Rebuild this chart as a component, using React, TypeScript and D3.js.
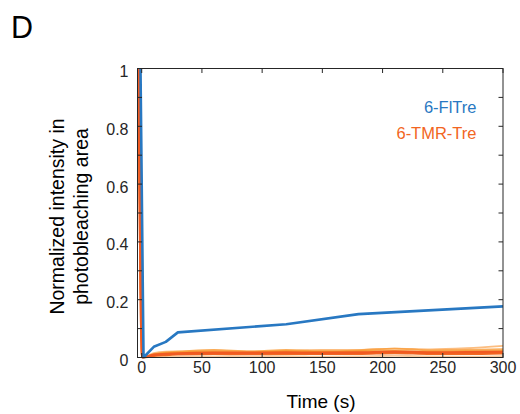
import React, { useEffect, useRef } from 'react';
import * as d3 from 'd3';

// time points (s)
const times = [0.5, 10, 20, 30, 60, 90, 120, 150, 180, 210, 240, 270, 300];

const blueTimes = [-1, 1.5, 10, 20, 30, 120, 180, 300];
const blueValues = [1, 0, 0.037, 0.054, 0.087, 0.115, 0.15, 0.177];

// 6-TMR-Tre traces (several cells)
const orangeSeries = [
  { color: '#FBB26A', values: [0, 0.015, 0.02, 0.021, 0.024, 0.021, 0.023, 0.026, 0.026, 0.031, 0.028, 0.032, 0.04] },
  { color: '#F9A03F', values: [0, 0.012, 0.018, 0.02, 0.026, 0.021, 0.026, 0.022, 0.025, 0.031, 0.025, 0.026, 0.029] },
  { color: '#F7931E', values: [0, 0.01, 0.015, 0.017, 0.019, 0.017, 0.021, 0.019, 0.021, 0.023, 0.02, 0.021, 0.023] },
  { color: '#FAC089', values: [0, 0.002, 0.003, 0.003, 0.004, 0.003, 0.005, 0.003, 0.004, 0.006, 0.004, 0.003, 0.005] },
  { color: '#F26B21', values: [0, 0.006, 0.009, 0.011, 0.013, 0.012, 0.013, 0.013, 0.013, 0.016, 0.013, 0.013, 0.015] },
  { color: '#F15A22', values: [0, 0.009, 0.012, 0.014, 0.016, 0.016, 0.017, 0.016, 0.017, 0.02, 0.017, 0.018, 0.019] },
];
const orangeStart = -2.5;

const xTicks = [0, 50, 100, 150, 200, 250, 300];
const yTicks = [0, 0.1, 0.2, 0.3, 0.4, 0.5, 0.6, 0.7, 0.8, 0.9, 1];
const yLabels = ['0', '0.2', '0.4', '0.6', '0.8', '1'];

const BLUE = '#2878C2';
const ORANGE = '#F26522';
const AXIS = '#262626';
const FONT = 'Liberation Sans, Arial, Helvetica, sans-serif';

const App = () => {
  const ref = useRef<SVGSVGElement | null>(null);

  useEffect(() => {
    const width = 520, height = 414;
    const left = 137.5, right = 503, top = 68.5, bottom = 357.5;

    const x = d3.scaleLinear().domain([-3.5, 300]).range([left, right]);
    const y = d3.scaleLinear().domain([0, 1]).range([bottom, top]);

    const svg = d3.select(ref.current)
      .attr('width', width)
      .attr('height', height)
      .attr('viewBox', [0, 0, width, height]);
    svg.selectAll('*').remove();

    svg.append('rect').attr('width', width).attr('height', height).attr('fill', '#fff');

    // panel letter
    svg.append('text')
      .attr('x', 11).attr('y', 37.5)
      .attr('font-family', FONT).attr('font-size', 30.5)
      .attr('fill', '#000')
      .text('D');

    svg.append('defs').append('clipPath').attr('id', 'plotclip')
      .append('rect')
      .attr('x', left).attr('y', top - 1)
      .attr('width', right - left).attr('height', bottom - top + 2);

    const line = d3.line<[number, number]>()
      .x(d => x(d[0]))
      .y(d => y(d[1]));

    const plot = svg.append('g').attr('clip-path', 'url(#plotclip)');

    orangeSeries.forEach((s, i) => {
      const pts: [number, number][] = [[orangeStart, 1], ...times.map((t, j) => [t, s.values[j]] as [number, number])];
      plot.append('path')
        .attr('d', line.curve(d3.curveMonotoneX)(pts))
        .attr('fill', 'none')
        .attr('stroke', s.color)
        .attr('stroke-width', i >= 4 ? 2.6 : 1.8)
        .attr('stroke-opacity', i >= 4 ? 1 : 0.85)
        .attr('stroke-linejoin', 'round');
    });

    const bluePts: [number, number][] = blueTimes.map((t, j) => [t, blueValues[j]]);
    plot.append('path')
      .attr('d', line.curve(d3.curveLinear)(bluePts))
      .attr('fill', 'none')
      .attr('stroke', BLUE)
      .attr('stroke-width', 2.6)
      .attr('stroke-linejoin', 'round');

    // frame
    svg.append('rect')
      .attr('x', left).attr('y', top)
      .attr('width', right - left).attr('height', bottom - top)
      .attr('fill', 'none')
      .attr('stroke', AXIS)
      .attr('stroke-width', 1);

    const tickLen = 4.5;
    const ticks = svg.append('g').attr('stroke', AXIS).attr('stroke-width', 1);
    xTicks.forEach(t => {
      ticks.append('line').attr('x1', x(t)).attr('x2', x(t)).attr('y1', bottom).attr('y2', bottom - tickLen);
      ticks.append('line').attr('x1', x(t)).attr('x2', x(t)).attr('y1', top).attr('y2', top + tickLen);
    });
    yTicks.forEach(t => {
      ticks.append('line').attr('x1', left).attr('x2', left + tickLen).attr('y1', y(t)).attr('y2', y(t));
      ticks.append('line').attr('x1', right).attr('x2', right - tickLen).attr('y1', y(t)).attr('y2', y(t));
    });

    // tick labels
    svg.append('g')
      .selectAll('text')
      .data(xTicks)
      .join('text')
      .attr('x', d => x(d))
      .attr('y', bottom + 15)
      .attr('text-anchor', 'middle')
      .attr('font-family', FONT).attr('font-size', 16)
      .attr('fill', AXIS)
      .text(d => String(d));

    svg.append('g')
      .selectAll('text')
      .data(yLabels)
      .join('text')
      .attr('x', left - 9)
      .attr('y', d => y(+d) + 8.5)
      .attr('text-anchor', 'end')
      .attr('font-family', FONT).attr('font-size', 16)
      .attr('fill', AXIS)
      .text(d => d);

    // axis titles
    svg.append('text')
      .attr('x', 321)
      .attr('y', 408)
      .attr('text-anchor', 'middle')
      .attr('font-family', FONT).attr('font-size', 19)
      .attr('fill', '#000')
      .text('Time (s)');

    const yTitle = svg.append('text')
      .attr('transform', 'translate(0,216.5) rotate(-90)')
      .attr('text-anchor', 'middle')
      .attr('font-family', FONT).attr('font-size', 19.5)
      .attr('fill', '#000');
    yTitle.append('tspan').attr('x', 0).attr('y', 63.5).text('Normalized intensity in');
    yTitle.append('tspan').attr('x', 0).attr('y', 88).text('photobleaching area');

    // legend
    svg.append('text')
      .attr('x', 476.5).attr('y', 112.5)
      .attr('text-anchor', 'end')
      .attr('font-family', FONT).attr('font-size', 16.5)
      .attr('fill', BLUE)
      .text('6-FlTre');
    svg.append('text')
      .attr('x', 476.5).attr('y', 139)
      .attr('text-anchor', 'end')
      .attr('font-family', FONT).attr('font-size', 16.5)
      .attr('fill', ORANGE)
      .text('6-TMR-Tre');
  }, []);

  return <svg ref={ref} style={{ position: 'absolute', left: 0, top: 0, display: 'block' }} />;
};

export default App;
